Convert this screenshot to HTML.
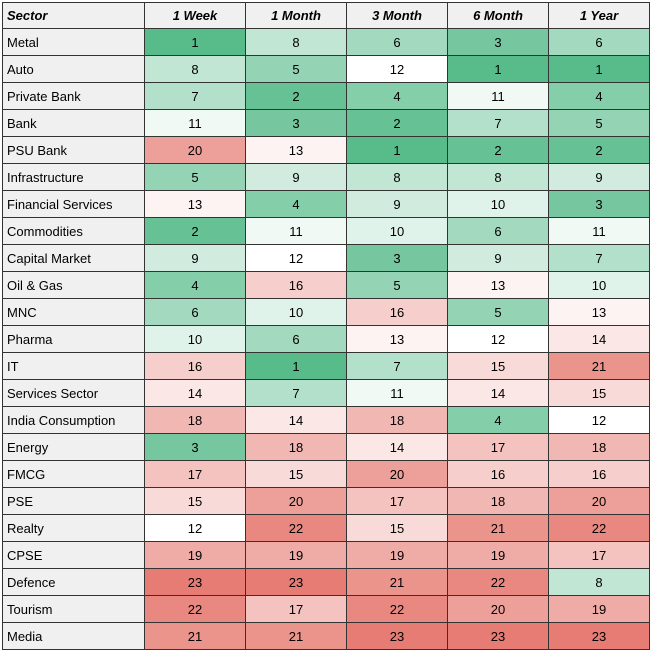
<!DOCTYPE html>
<html><head><meta charset="utf-8"><style>
body{margin:0;background:#fff;}
table{position:absolute;left:2px;top:2px;border-collapse:collapse;font-family:"Liberation Sans",Arial,sans-serif;font-size:13px;color:#000;table-layout:fixed;}
td,th{border:1px solid #333;padding:0 4px;height:27px;box-sizing:border-box;}
th{background:#f0f0f0;font-style:italic;font-weight:bold;text-align:center;height:26px;}
th:first-child{text-align:left;}
td:first-child{background:#f0f0f0;text-align:left;}
td{text-align:center;}
</style></head><body>
<table id="t">
<colgroup><col style="width:142px"><col style="width:101px"><col style="width:101px"><col style="width:101px"><col style="width:101px"><col style="width:101px"></colgroup>
<tr><th>Sector</th><th>1 Week</th><th>1 Month</th><th>3 Month</th><th>6 Month</th><th>1 Year</th></tr>
<tr><td>Metal</td><td>1</td><td>8</td><td>6</td><td>3</td><td>6</td></tr>
<tr><td>Auto</td><td>8</td><td>5</td><td>12</td><td>1</td><td>1</td></tr>
<tr><td>Private Bank</td><td>7</td><td>2</td><td>4</td><td>11</td><td>4</td></tr>
<tr><td>Bank</td><td>11</td><td>3</td><td>2</td><td>7</td><td>5</td></tr>
<tr><td>PSU Bank</td><td>20</td><td>13</td><td>1</td><td>2</td><td>2</td></tr>
<tr><td>Infrastructure</td><td>5</td><td>9</td><td>8</td><td>8</td><td>9</td></tr>
<tr><td>Financial Services</td><td>13</td><td>4</td><td>9</td><td>10</td><td>3</td></tr>
<tr><td>Commodities</td><td>2</td><td>11</td><td>10</td><td>6</td><td>11</td></tr>
<tr><td>Capital Market</td><td>9</td><td>12</td><td>3</td><td>9</td><td>7</td></tr>
<tr><td>Oil &amp; Gas</td><td>4</td><td>16</td><td>5</td><td>13</td><td>10</td></tr>
<tr><td>MNC</td><td>6</td><td>10</td><td>16</td><td>5</td><td>13</td></tr>
<tr><td>Pharma</td><td>10</td><td>6</td><td>13</td><td>12</td><td>14</td></tr>
<tr><td>IT</td><td>16</td><td>1</td><td>7</td><td>15</td><td>21</td></tr>
<tr><td>Services Sector</td><td>14</td><td>7</td><td>11</td><td>14</td><td>15</td></tr>
<tr><td>India Consumption</td><td>18</td><td>14</td><td>18</td><td>4</td><td>12</td></tr>
<tr><td>Energy</td><td>3</td><td>18</td><td>14</td><td>17</td><td>18</td></tr>
<tr><td>FMCG</td><td>17</td><td>15</td><td>20</td><td>16</td><td>16</td></tr>
<tr><td>PSE</td><td>15</td><td>20</td><td>17</td><td>18</td><td>20</td></tr>
<tr><td>Realty</td><td>12</td><td>22</td><td>15</td><td>21</td><td>22</td></tr>
<tr><td>CPSE</td><td>19</td><td>19</td><td>19</td><td>19</td><td>17</td></tr>
<tr><td>Defence</td><td>23</td><td>23</td><td>21</td><td>22</td><td>8</td></tr>
<tr><td>Tourism</td><td>22</td><td>17</td><td>22</td><td>20</td><td>19</td></tr>
<tr><td>Media</td><td>21</td><td>21</td><td>23</td><td>23</td><td>23</td></tr>
</table>
<script>
var g=[0x57,0xbb,0x8a],r=[0xe6,0x7c,0x73];
document.querySelectorAll('#t tr').forEach(function(tr,i){if(!i)return;
tr.querySelectorAll('td').forEach(function(td,j){if(!j)return;
var v=+td.textContent,c,t;if(v<=12){t=(12-v)/11;c=g;}else{t=(v-12)/11;c=r;}
var col=c.map(function(x){return Math.round(255+(x-255)*t);});
td.style.background='rgb('+col.join(',')+')';});});
</script>
</body></html>
